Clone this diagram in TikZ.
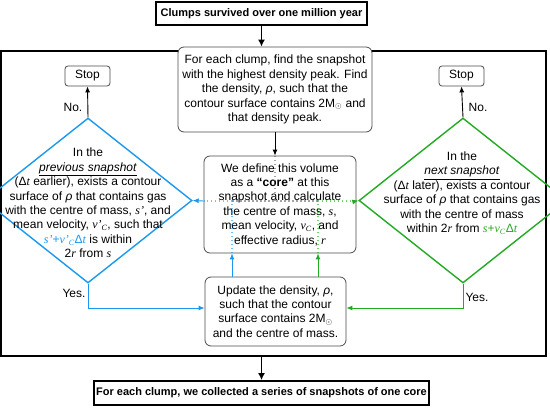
\documentclass[tikz,border=0pt]{standalone}
\usepackage{fontspec}
\setmainfont{Liberation Sans}
\newfontfamily\serifvar{Liberation Serif}
\usepackage{xcolor}
\usetikzlibrary{shapes.geometric, arrows.meta, positioning}
\definecolor{coreblue}{RGB}{27,152,240}
\definecolor{coregreen}{RGB}{34,170,34}
\newcommand{\mvar}[1]{{\serifvar\itshape #1}}

\begin{document}
\begin{tikzpicture}[x=1pt, y=-1pt,
    mainbox/.style={rectangle, draw, line width=1.8pt, fill=white, inner sep=0pt, font=\fontsize{11}{13}\selectfont\bfseries},
    frame/.style={rectangle, draw, line width=1.8pt, inner sep=0pt},
    roundbox/.style={rectangle, rounded corners=6pt, draw=black!70, line width=0.8pt, fill=white, align=center, inner sep=0pt, font=\fontsize{12}{14.4}\selectfont},
    stopbox/.style={roundbox, rounded corners=3pt},
    check/.style={diamond, draw, line width=1.4pt, inner sep=0pt},
    txt/.style={align=center, inner sep=0pt, font=\fontsize{12}{14.4}\selectfont},
    arrow/.style={-{Latex[length=6pt,width=5pt]}, line width=0.9pt},
    bigarrow/.style={-{Latex[length=7pt,width=7pt]}, line width=1.8pt},
    via/.style={line width=1.6pt, dash pattern=on 1.6pt off 2.4pt, opacity=0.6}
]
\useasboundingbox (0,0) rectangle (550,412);

% Outer frame and the two bold boxes
\node[frame, minimum width=545, minimum height=305] (frame) at (273.5,203.5) {};
\node[mainbox, minimum width=211, minimum height=23] (clumps) at (261.5,13.5) {Clumps survived over one million year};
\node[mainbox, minimum width=335, minimum height=24] (result) at (261.5,393) {For each clump, we collected a series of snapshots of one core};

% Middle column
\node[roundbox, minimum width=194, minimum height=85] (find) at (275,89.5) {For each clump, find the snapshot\\
    with the highest density peak. Find\\
    the density, \textit{ρ}, such that the\\
    contour surface contains 2M$_\odot$ and\\
    that density peak.};
\node[roundbox, minimum width=152, minimum height=97] (core) at (280,204.5) {We define this volume\\
    as a \textbf{“core”} at this\\
    snapshot and calculate\\
    the centre of mass, \mvar{s},\\
    mean velocity, \mvar{v}\textsubscript{\mvar{C}}, and\\
    effective radius, \mvar{r}};
\node[roundbox, minimum width=141, minimum height=69] (upd) at (275.5,311.5) {Update the density, \textit{ρ},\\
    such that the contour\\
    surface contains 2M$_\odot$\\
    and the centre of mass.};

% Checks on the previous and the next snapshot
\node[check, draw=coreblue, minimum width=208, minimum height=165] (prev) at (88,200.5) {};
\node[txt] (prevtxt) at (88,203) {In the\\
    \underline{\textit{previous snapshot}}\\
    (Δ\mvar{t} earlier), exists a contour\\
    surface of \textit{ρ} that contains gas\\
    with the centre of mass, \mvar{s’}, and\\
    mean velocity, \mvar{v’}\textsubscript{\mvar{C}}, such that\\
    {\color{coreblue}\mvar{s’}+\mvar{v’}\textsubscript{\mvar{C}}Δ\mvar{t}} is within\\
    2\mvar{r} from \mvar{s}};
\node[check, draw=coregreen, minimum width=208, minimum height=165] (next) at (463,200.5) {};
\node[txt] (nexttxt) at (462,193) {In the\\
    \underline{\textit{next snapshot}}\\
    (Δ\mvar{t} later), exists a contour\\
    surface of \textit{ρ} that contains gas\\
    with the centre of mass\\
    within 2\mvar{r} from {\color{coregreen}\mvar{s}+\mvar{v}\textsubscript{\mvar{C}}Δ\mvar{t}}};

% Stop boxes
\node[stopbox, minimum width=45, minimum height=20] (lstop) at (87.5,76) {Stop};
\node[stopbox, minimum width=45, minimum height=20] (rstop) at (461.5,76) {Stop};

% Junctions inside the core box
\coordinate (bj) at (232,201);
\coordinate (cj) at (275,201);
\coordinate (gj) at (318,201);

% Main flow
\draw[bigarrow] (clumps.south) -- (clumps.south |- find.north);
\draw[arrow] (find.south) -- (find.south |- core.north);
\draw[bigarrow] (result.north |- frame.south) -- (result.north);

% Paths through the core box
\draw[via, black!60] (find.south |- core.north) -- (cj);
\draw[via, black!60] (bj) -- (gj);
\draw[via, coreblue] (core.south -| bj) -- (bj) -- (core.west |- bj);
\draw[via, coregreen] (core.south -| gj) -- (gj) -- (core.east |- gj);

% Blue loop
\draw[arrow, coreblue] (upd.north -| bj) -- (core.south -| bj);
\draw[arrow, coreblue] (core.west |- bj) -- (prev.east);
\draw[arrow, coreblue] (prev.south) |- ([yshift=3.5pt]upd.west);

% Green loop
\draw[arrow, coregreen] (upd.north -| gj) -- (core.south -| gj);
\draw[arrow, coregreen] (core.east |- gj) -- (next.west);
\draw[arrow, coregreen] (next.south) |- ([yshift=3.5pt]upd.east);

% Stop branches
\draw[arrow] (prev.north) -- (lstop.south);
\draw[arrow] (next.north) -- (rstop.south);

% Branch labels
\node[txt] (lno) at (73,107) {No.};
\node[txt] (rno) at (478,107) {No.};
\node[txt] (lyes) at (74,293) {Yes.};
\node[txt] (ryes) at (477,297) {Yes.};

\end{tikzpicture}
\end{document}
